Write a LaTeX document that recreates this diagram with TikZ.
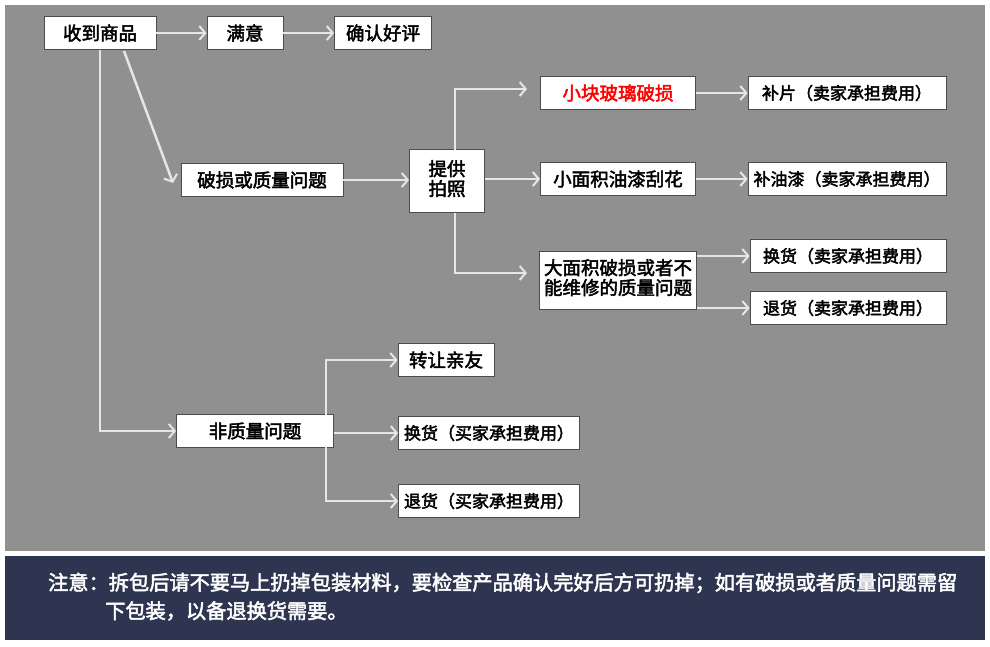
\documentclass[tikz,border=0pt]{standalone}
\usepackage{fontspec}
\setmainfont{Noto Sans CJK SC}[AutoFakeBold=2.5]
\usetikzlibrary{arrows.meta}
\definecolor{bggray}{HTML}{909090}
\definecolor{navy}{HTML}{2E3550}
\definecolor{lin}{HTML}{E6E6E6}
\tikzset{
 bx/.style={draw=black!70,line width=0.8pt,fill=white,inner sep=0pt,font=\fontsize{18.5}{21}\selectfont\bfseries},
 sm/.style={bx,font=\fontsize{17}{20}\selectfont\bfseries},
 ar/.style={draw=lin,line width=2.5pt,-{Straight Barb[length=6pt,width=14pt,line width=2pt]}},
 note/.style={text=white,font=\fontsize{20.2}{24}\selectfont\bfseries,anchor=west,inner sep=0pt}
}
\newcommand{\bxat}[6]{\node[#1,minimum width=#4pt,minimum height=#5pt] (#2) at (#3) {#6};}
\begin{document}
\begin{tikzpicture}[x=1pt,y=-1pt]
\useasboundingbox (0,0) rectangle (990,647);
\fill[white] (0,0) rectangle (990,647);
\fill[bggray] (5,5) rectangle (985,551);
\fill[navy] (5,556) rectangle (985,640);
\bxat{bx}{a}{100,33}{112}{33}{收到商品}
\bxat{bx}{b}{245,33}{76}{33}{满意}
\bxat{bx}{c}{383,33}{97}{33}{确认好评}
\bxat{bx}{d}{262,180}{162}{33}{破损或质量问题}
\bxat{bx}{e}{447,181}{75}{63}{\begin{tabular}{@{}l@{}}提供\\[-2pt]拍照\end{tabular}}
\bxat{bx}{f}{618,93}{155}{33}{\textcolor{red}{小块玻璃破损}}
\bxat{sm}{g}{847,93}{198}{33}{补片（卖家承担费用）}
\bxat{bx}{h}{618,179}{155}{33}{小面积油漆刮花}
\bxat{sm}{i}{847,179}{198}{33}{补油漆（卖家承担费用）}
\bxat{bx}{j}{618,280}{157}{58}{\begin{tabular}{@{}l@{}}大面积破损或者不\\[-2pt]能维修的质量问题\end{tabular}}
\bxat{sm}{k}{848,256}{196}{33}{换货（卖家承担费用）}
\bxat{sm}{l}{848,308}{196}{33}{退货（卖家承担费用）}
\bxat{bx}{m}{446,360}{96}{33}{转让亲友}
\bxat{bx}{n}{255,431}{157}{33}{非质量问题}
\bxat{sm}{o}{489,433}{181}{33}{换货（买家承担费用）}
\bxat{sm}{p}{489,501}{181}{33}{退货（买家承担费用）}
\coordinate (p1) at (124,51); \coordinate (t1) at (173,183);
\coordinate (q1) at (100,50);
\coordinate (q2) at (455,150); \coordinate (q3) at (527,89);
\coordinate (q4) at (455,213); \coordinate (q5) at (527,273);
\coordinate (q6) at (326,415); \coordinate (q7) at (326,447);
\draw[ar] (a) -- (b);
\draw[ar] (b) -- (c);
\draw[ar] (p1) -- (t1);
\draw[ar] (q1) |- (n.west);
\draw[ar] (d.east) -- (e.west |- d.east);
\draw[ar] (q2) |- (q3);
\draw[ar] (e.east |- h.west) -- (h.west);
\draw[ar] (q4) |- (q5);
\draw[ar] (f.east) -- (g.west);
\draw[ar] (h.east) -- (i.west);
\draw[ar] (j.east |- k.west) -- (k.west);
\draw[ar] (j.east |- l.west) -- (l.west);
\draw[ar] (q6) |- (m.west);
\draw[ar] (n.east |- o.west) -- (o.west);
\draw[ar] (q7) |- (p.west);
\node[note] (n1) at (48,583) {注意：拆包后请不要马上扔掉包装材料，要检查产品确认完好后方可扔掉；如有破损或者质量问题需留};
\node[note] (n2) at (105,611) {下包装，以备退换货需要。};
\end{tikzpicture}
\end{document}
